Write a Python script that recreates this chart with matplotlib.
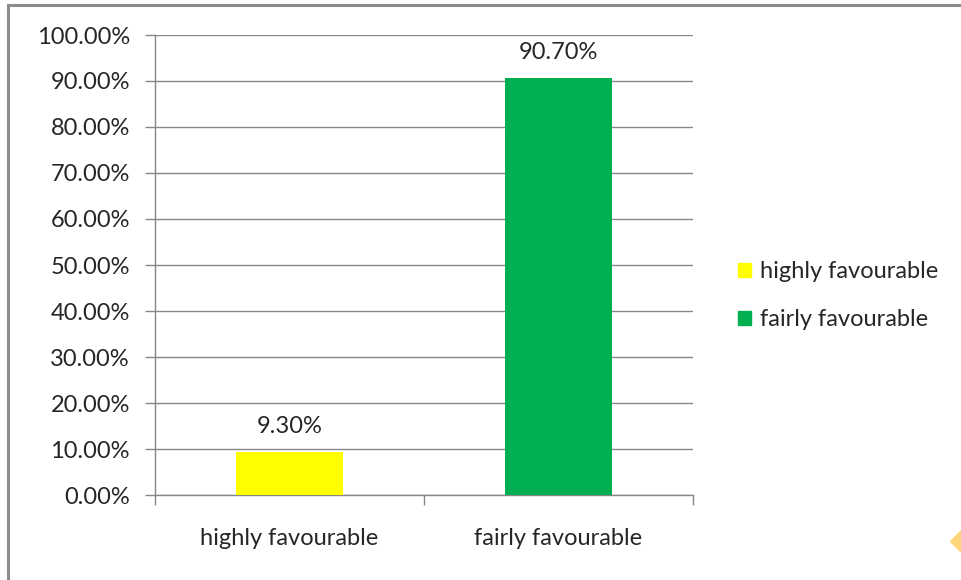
import matplotlib
matplotlib.use("Agg")
import matplotlib.pyplot as plt
from matplotlib.lines import Line2D
from matplotlib.patches import Rectangle
from matplotlib.ticker import FuncFormatter

categories = ["highly favourable", "fairly favourable"]
shares = [9.30, 90.70]
colors = ["#FFFF00", "#00B050"]
yticks = [0, 10, 20, 30, 40, 50, 60, 70, 80, 90, 100]

plt.rcParams["font.family"] = ["Lato", "DejaVu Sans"]
TXT = "#262626"
GRID = "#878787"
FS = 17

fig = plt.figure(figsize=(9.61, 5.8), dpi=100)
fig.patch.set_facecolor("white")
# outer chart frame
fig.add_artist(Rectangle((8 / 961, -0.01), 1.0, 1 - 5 / 580 + 0.01, transform=fig.transFigure,
                         fill=False, ec="#8c8c8c", lw=2.2))

ax = fig.add_axes([155 / 961, 85 / 580, 538 / 961, 460 / 580])
x = range(len(categories))
bars = ax.bar(x, shares, width=0.395, color=colors, label=categories, zorder=3)
for b, v in zip(bars, shares):
    ax.annotate(f"{v:.2f}%", (b.get_x() + b.get_width() / 2, v), xytext=(0, 11),
                textcoords="offset points", ha="center", va="bottom", fontsize=FS, color=TXT)

ax.set_xlim(-0.5, 1.5)
ax.set_ylim(0, 100)
ax.set_yticks(yticks)
ax.yaxis.set_major_formatter(FuncFormatter(lambda v, _: f"{v:.2f}%"))
ax.set_xticks([-0.5, 0.5, 1.5])
ax.set_xticklabels([])
ax.set_xticks(list(x), minor=True)
ax.set_xticklabels(categories, minor=True)
ax.tick_params(axis="x", which="minor", length=0, pad=24, labelsize=FS, labelcolor=TXT)
ax.tick_params(axis="x", which="major", length=7, color=GRID, width=1)
ax.tick_params(axis="y", length=7, color=GRID, width=1, labelsize=FS, labelcolor=TXT, pad=11)
ax.grid(axis="y", color=GRID, lw=1, zorder=0)
for s in ("top", "right"):
    ax.spines[s].set_visible(False)
for s in ("left", "bottom"):
    ax.spines[s].set_color(GRID)
    ax.spines[s].set_linewidth(1)

handles = [Rectangle((0, 0), 1, 1, color=c) for c in colors]
fig.legend(handles, categories, loc="upper left", bbox_to_anchor=(717 / 961, 1 - 240 / 580),
           frameon=False, fontsize=FS, handlelength=0.55, handleheight=0.55, handletextpad=0.35,
           labelspacing=1.15, labelcolor=TXT)

# small orange diamond at the lower right edge
fig.add_artist(Line2D([963 / 961], [1 - 541 / 580], marker="D", ms=13, color="#FFD77A",
                      transform=fig.transFigure, clip_on=False))

fig.savefig("out.png", dpi=100)
